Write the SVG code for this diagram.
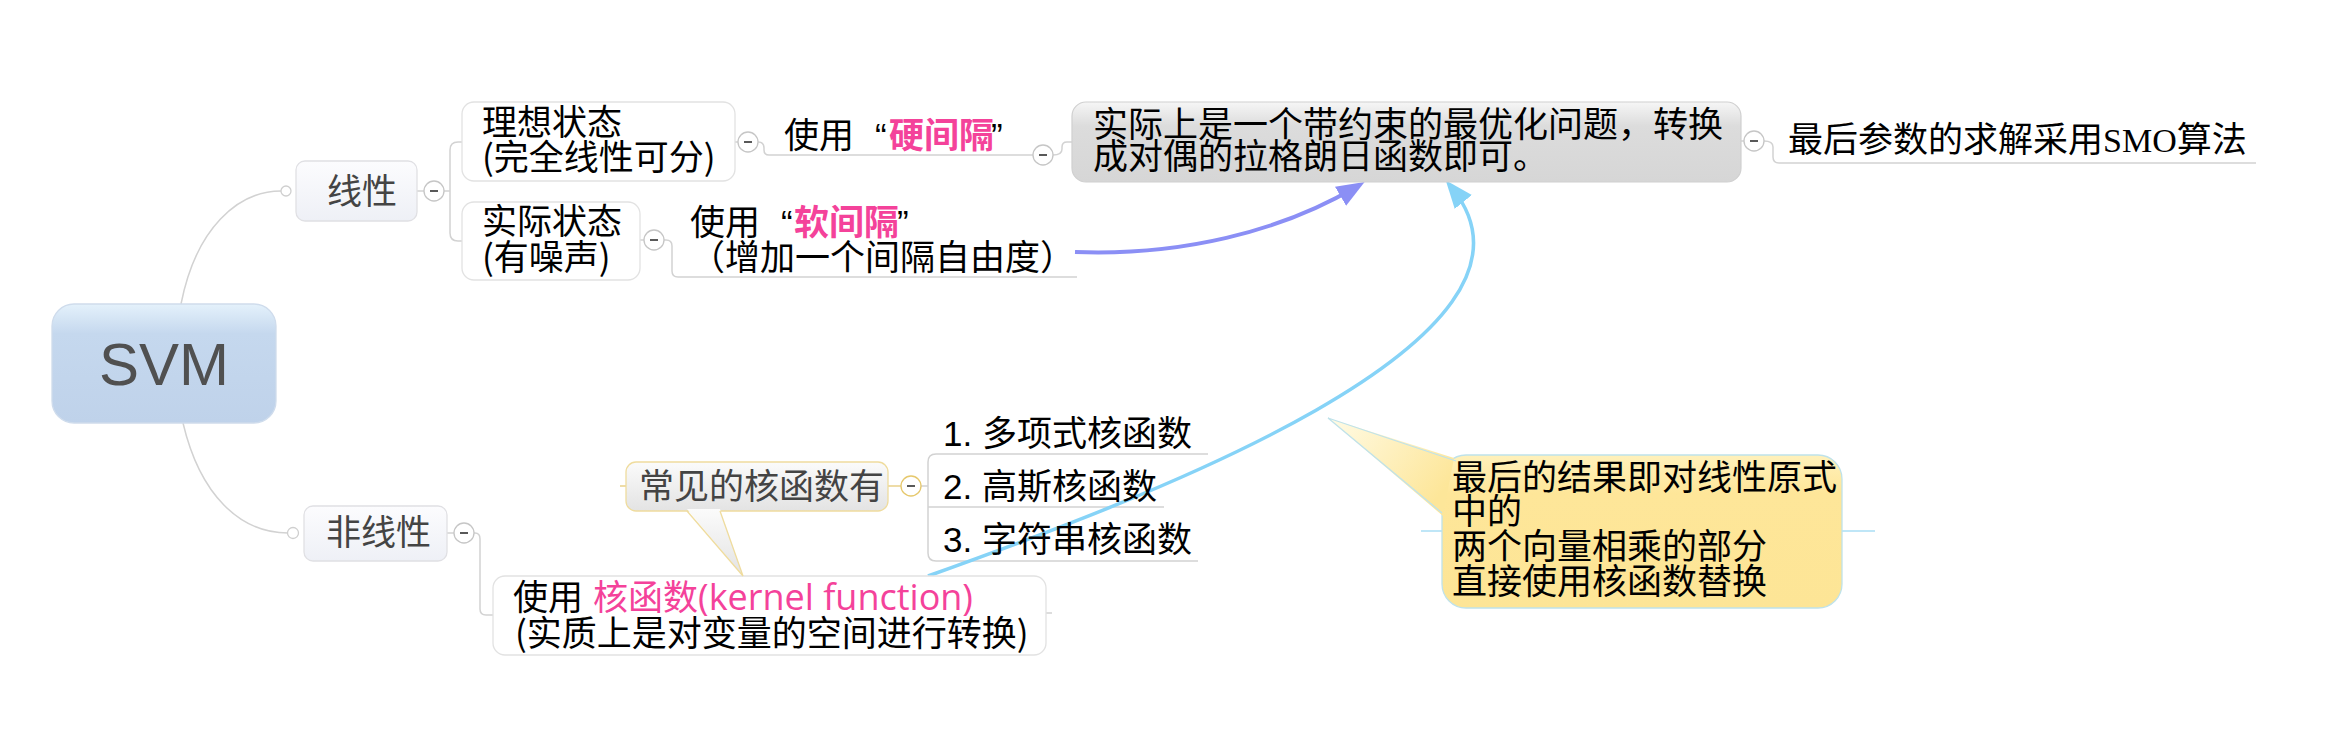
<svg xmlns="http://www.w3.org/2000/svg" width="2334" height="740" viewBox="0 0 2334 740">
<defs>
  <linearGradient id="gSvm" x1="0" y1="0" x2="0" y2="1">
    <stop offset="0" stop-color="#e4f1fb"/><stop offset="0.25" stop-color="#c5d8ee"/><stop offset="1" stop-color="#bfd2ea"/>
  </linearGradient>
  <linearGradient id="gMain" x1="0" y1="0" x2="0" y2="1">
    <stop offset="0" stop-color="#fcfcfe"/><stop offset="1" stop-color="#eef0f6"/>
  </linearGradient>
  <linearGradient id="gGray" x1="0" y1="0" x2="0" y2="1">
    <stop offset="0" stop-color="#f6f6f6"/><stop offset="0.3" stop-color="#dcdcdc"/><stop offset="1" stop-color="#d6d6d6"/>
  </linearGradient>
  <linearGradient id="gTip" x1="0" y1="0" x2="0" y2="1">
    <stop offset="0" stop-color="#fbfbfb"/><stop offset="1" stop-color="#e3e3e3"/>
  </linearGradient>
  <linearGradient id="gYellow" x1="0" y1="0" x2="0" y2="1">
    <stop offset="0" stop-color="#fff1bb"/><stop offset="0.25" stop-color="#fee699"/><stop offset="1" stop-color="#fde596"/>
  </linearGradient>
  <linearGradient id="gYTail" x1="0" y1="0" x2="1" y2="0.6">
    <stop offset="0" stop-color="#fffbe6"/><stop offset="1" stop-color="#fde699"/>
  </linearGradient>
  <marker id="arP" markerUnits="userSpaceOnUse" markerWidth="30" markerHeight="24" refX="18" refY="11" orient="auto">
    <path d="M0,0 L28,11 L0,22 z" fill="#8b8ff5"/>
  </marker>
  <marker id="arB" markerUnits="userSpaceOnUse" markerWidth="30" markerHeight="24" refX="18" refY="11" orient="auto">
    <path d="M0,0 L28,11 L0,22 z" fill="#86d3f7"/>
  </marker>
</defs>
<style>
  .cn { fill: none; stroke: #d2d2d2; stroke-width: 1.5; }
  .cy { fill: none; stroke: #e9d08a; stroke-width: 1.5; }
  .t { font-family: "Noto Sans CJK SC", sans-serif; font-size: 35px; fill: #000; }
  .g { fill: #444; }
  .pk { fill: #f4429a; }
  .lat { font-family: "Liberation Sans", sans-serif; }
  .tog circle { fill: #fff; stroke: #c6c6c6; stroke-width: 1.3; }
  .togy circle { fill: #fff; stroke: #e6c86c; stroke-width: 1.3; }
  .tog line, .togy line { stroke: #222; stroke-width: 1.5; }
  .dot { fill: #fff; stroke: #cfcfcf; stroke-width: 1.3; }
  .box { fill: #fff; stroke: #e2e2e2; stroke-width: 1.3; }
</style>

<!-- connectors -->
<g id="connectors">
  <path class="cn" d="M181,304 C196,228 238,191 281,191"/>
  <path class="cn" d="M183,423 C200,495 240,533 288,533"/>
  <path class="cn" d="M417,191 H424"/>
  <path class="cn" d="M444,191 H450"/>
  <path class="cn" d="M462,142 H458 Q450,142 450,150 V233 Q450,241 458,241 H462"/>
  <path class="cn" d="M735,142 H738"/>
  <path class="cn" d="M758,142 Q764,142 764,148 V150 Q764,155 769,155 H1033"/>
  <path class="cn" d="M1053,155 Q1062,155 1062,149 V147 Q1062,142 1067,142 H1072"/>
  <path class="cn" d="M1741,141 H1744"/>
  <path class="cn" d="M1764,141 Q1773,141 1773,147 V157 Q1773,163 1779,163 H2256"/>
  <path class="cn" d="M640,240 H644"/>
  <path class="cn" d="M664,240 H666 Q672,240 672,246 V271 Q672,277 678,277 H1077"/>
  <path class="cn" d="M447,533 H454"/>
  <path class="cn" d="M474,533 H475 Q480,533 480,539 V609 Q480,615 486,615 H493"/>
  <path class="cn" d="M1046,613 H1052"/>
  <path class="cy" d="M620,486 H626"/>
  <path class="cy" d="M888,486 H901"/>
  <path class="cn" d="M921,486 H928"/>
  <path class="cn" d="M1208,454 H936 Q928,454 928,462 V553 Q928,561 936,561 H1198"/>
  <path class="cn" d="M928,507 H1164"/>
  <line x1="1421" y1="531" x2="1875" y2="531" stroke="#bfe6f7" stroke-width="2"/>
  <path d="M1075,252 C1180,256 1280,232 1356,187" fill="none" stroke="#8b8ff5" stroke-width="4" marker-end="url(#arP)"/>
  <path d="M928,576 C1140,500 1575,340 1452,188" fill="none" stroke="#86d3f7" stroke-width="3.5" marker-end="url(#arB)"/>
</g>

<!-- toggles and dots -->
<g id="toggles">
  <circle class="dot" cx="286" cy="191" r="5"/>
  <circle class="dot" cx="293" cy="533" r="5.5"/>
  <g class="tog"><circle cx="434" cy="191" r="10"/><line x1="430" y1="191" x2="438" y2="191"/></g>
  <g class="tog"><circle cx="748" cy="142" r="10"/><line x1="744" y1="142" x2="752" y2="142"/></g>
  <g class="tog"><circle cx="1043" cy="155" r="10"/><line x1="1039" y1="155" x2="1047" y2="155"/></g>
  <g class="tog"><circle cx="1754" cy="141" r="10"/><line x1="1750" y1="141" x2="1758" y2="141"/></g>
  <g class="tog"><circle cx="654" cy="240" r="10"/><line x1="650" y1="240" x2="658" y2="240"/></g>
  <g class="tog"><circle cx="464" cy="533" r="10"/><line x1="460" y1="533" x2="468" y2="533"/></g>
  <g class="togy"><circle cx="911" cy="486" r="10"/><line x1="907" y1="486" x2="915" y2="486"/></g>
</g>

<g id="n-svm">
  <rect x="52" y="304" width="224" height="119" rx="22" fill="url(#gSvm)" stroke="#cfdcec" stroke-width="1.3"/>
  <text x="164" y="385" text-anchor="middle" font-family="Liberation Sans, sans-serif" font-size="60" fill="#505050">SVM</text>
</g>

<g id="n-linear">
  <rect x="296" y="161" width="121" height="60" rx="9" fill="url(#gMain)" stroke="#e0e0e4" stroke-width="1.3"/>
  <text class="t g" x="327" y="204">线性</text>
</g>

<g id="n-nonlinear">
  <rect x="304" y="506" width="143" height="55" rx="9" fill="url(#gMain)" stroke="#e0e0e4" stroke-width="1.3"/>
  <text class="t g" x="326" y="545">非线性</text>
</g>

<g id="n-ideal">
  <rect class="box" x="462" y="102" width="273" height="79" rx="12"/>
  <text class="t" x="482" y="135">理想状态</text>
  <text class="t" x="482" y="170">(完全线性可分)</text>
</g>

<g id="n-real">
  <rect class="box" x="462" y="202" width="178" height="78" rx="12"/>
  <text class="t" x="482" y="234">实际状态</text>
  <text class="t" x="482" y="270">(有噪声)</text>
</g>

<g id="n-hard">
  <text class="t" y="148"><tspan x="784">使用</tspan><tspan x="875" class="lat">“</tspan><tspan x="889" class="pk" font-weight="bold">硬间隔</tspan><tspan x="991" class="lat">”</tspan></text>
</g>

<g id="n-soft">
  <text class="t" y="235"><tspan x="690">使用</tspan><tspan x="781" class="lat">“</tspan><tspan x="794" class="pk" font-weight="bold">软间隔</tspan><tspan x="897" class="lat">”</tspan></text>
  <text class="t" x="690" y="270">（增加一个间隔自由度）</text>
</g>

<g id="n-opt">
  <rect x="1072" y="102" width="669" height="80" rx="14" fill="url(#gGray)" stroke="#d0d0d0" stroke-width="1.2"/>
  <text class="t" x="1093" y="137">实际上是一个带约束的最优化问题，转换</text>
  <text class="t" x="1093" y="169">成对偶的拉格朗日函数即可。</text>
</g>

<g id="n-smo">
  <text class="t" x="1788" y="152">最后参数的求解采用<tspan font-family="Liberation Serif, serif" font-size="34">SMO</tspan>算法</text>
</g>

<g id="n-kernel">
  <rect class="box" x="493" y="576" width="553" height="79" rx="12"/>
  <text class="t" y="610"><tspan x="513">使用</tspan><tspan x="593" class="pk">核函数</tspan><tspan class="pk" font-family="Open Sans, sans-serif" font-size="36">(kernel function)</tspan></text>
  <text class="t" x="515" y="646">(实质上是对变量的空间进行转换)</text>
</g>

<g id="n-common">
  <rect x="626" y="462" width="262" height="49" rx="10" fill="url(#gTip)" stroke="#efdc9e" stroke-width="1.3"/>
  <polygon points="687,509 720,509 743,576" fill="url(#gTip)"/>
  <polyline points="687,511 743,576 720,511" fill="none" stroke="#efdc9e" stroke-width="1.3"/>
  <text class="t g" x="639" y="499">常见的核函数有</text>
</g>

<g id="n-k1">
  <text class="t" x="943" y="446"><tspan class="lat">1. </tspan>多项式核函数</text>
</g>
<g id="n-k2">
  <text class="t" x="943" y="499"><tspan class="lat">2. </tspan>高斯核函数</text>
</g>
<g id="n-k3">
  <text class="t" x="943" y="552"><tspan class="lat">3. </tspan>字符串核函数</text>
</g>

<g id="n-note">
  <rect x="1442" y="455" width="400" height="153" rx="24" fill="url(#gYellow)" stroke="#bfe2ea" stroke-width="1.3"/>
  <polygon points="1454,458 1328,418 1443,516" fill="url(#gYTail)"/>
  <polyline points="1456,461 1328,418 1442,513" fill="none" stroke="#bfe2ea" stroke-width="1.3"/>
  <text class="t" x="1452" y="490">最后的结果即对线性原式</text>
  <text class="t" x="1452" y="524">中的</text>
  <text class="t" x="1452" y="559">两个向量相乘的部分</text>
  <text class="t" x="1452" y="594">直接使用核函数替换</text>
</g>
</svg>
